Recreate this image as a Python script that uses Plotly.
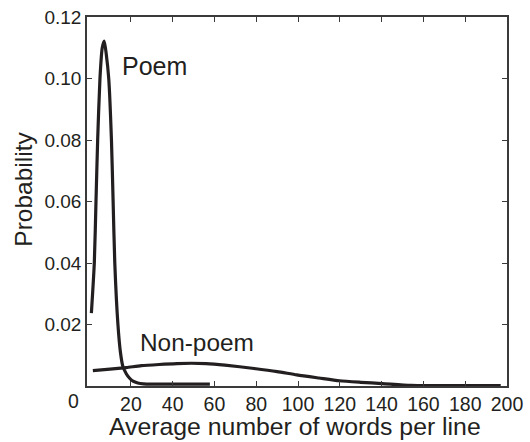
import plotly.graph_objects as go

# Poem curve (probability vs avg words per line)
poem_x = [1.1, 2.5, 3.3, 4.1, 5.2, 6.3, 7.25, 8.2, 9.4, 10.7, 11.5, 12.3, 13.8, 15.0, 16.2, 17.8, 19.3, 21.0, 23.3, 26.0, 30.0, 40.0, 50.0, 57.8]
poem_y = [0.0237, 0.040, 0.060, 0.080, 0.100, 0.110, 0.1122, 0.108, 0.100, 0.080, 0.060, 0.040, 0.020, 0.011, 0.0063, 0.0040, 0.0026, 0.0016, 0.0010, 0.0007, 0.0006, 0.0006, 0.0006, 0.0006]

# Non-poem curve
nonpoem_x = [1.8, 10, 17.8, 25, 33.5, 42, 49, 56, 65, 79, 90, 99.4, 110, 119.8, 130, 140.2, 154, 170, 185, 197]
nonpoem_y = [0.0050, 0.0055, 0.0060, 0.0066, 0.0070, 0.0073, 0.0074, 0.0073, 0.0068, 0.0057, 0.0047, 0.0036, 0.0026, 0.0017, 0.0012, 0.0008, 0.0002, 0.0001, 0.0001, 0.0001]

x_ticks = [20, 40, 60, 80, 100, 120, 140, 160, 180, 200]
y_ticks = [0.02, 0.04, 0.06, 0.08, 0.10, 0.12]
y_labels = ["0.02", "0.04", "0.06", "0.08", "0.10", "0.12"]

ink = "#231f20"
axis_col = "#3a3a3a"
font_family = "Liberation Sans, Arial, sans-serif"

fig = go.Figure()
fig.add_trace(go.Scatter(x=poem_x, y=poem_y, mode="lines",
                         line=dict(color=ink, width=3.2, shape="spline", smoothing=0.6),
                         showlegend=False))
fig.add_trace(go.Scatter(x=nonpoem_x, y=nonpoem_y, mode="lines",
                         line=dict(color=ink, width=3.2, shape="spline", smoothing=0.6),
                         showlegend=False))

fig.add_annotation(x=31.5, y=0.1040, text="Poem", showarrow=False, xref="x", yref="y",
                   xanchor="center", font=dict(size=25, color=ink, family=font_family))
fig.add_annotation(x=51.5, y=0.0143, text="Non-poem", showarrow=False, xref="x", yref="y",
                   xanchor="center", font=dict(size=24.4, color=ink, family=font_family))
# stray "0" tick label at left of x axis
fig.add_annotation(x=-0.033, xref="paper", y=0, yref="paper", yshift=-15, text="0",
                   showarrow=False, xanchor="center", yanchor="middle",
                   font=dict(size=19.5, color=ink, family=font_family))
# y-axis title
fig.add_annotation(x=-0.15, xref="paper", y=0.532, yref="paper", text="Probability",
                   textangle=-90, showarrow=False, xanchor="center", yanchor="middle",
                   font=dict(size=24.5, color=ink, family=font_family))
# x-axis title
fig.add_annotation(x=0.496, xref="paper", y=-0.11, yref="paper",
                   text="Average number of words per line",
                   showarrow=False, xanchor="center", yanchor="middle",
                   font=dict(size=24.8, color=ink, family=font_family))

fig.update_layout(
    width=530, height=442,
    margin=dict(l=87, r=16, t=7, b=56),
    paper_bgcolor="white", plot_bgcolor="white",
    font=dict(family=font_family, color=ink),
    xaxis=dict(range=[-1, 200], tickvals=x_ticks, ticks="inside", ticklen=5,
               tickcolor=axis_col, tickwidth=1.2, showgrid=False, zeroline=False,
               showline=True, linecolor=axis_col, linewidth=1.5, mirror="ticks",
               ticklabeloverflow="allow",
               tickfont=dict(size=19.5, color=ink)),
    yaxis=dict(range=[0, 0.12], tickvals=y_ticks, ticktext=y_labels, ticks="inside",
               ticklen=5, tickcolor=axis_col, tickwidth=1.2, showgrid=False,
               zeroline=False, showline=True, linecolor=axis_col, linewidth=1.5,
               mirror="ticks", ticklabeloverflow="allow",
               tickfont=dict(size=19, color=ink)),
)

fig.write_html("out.html", config={"displayModeBar": False},
               post_script="document.body.style.margin='0';document.body.style.overflow='hidden';")
